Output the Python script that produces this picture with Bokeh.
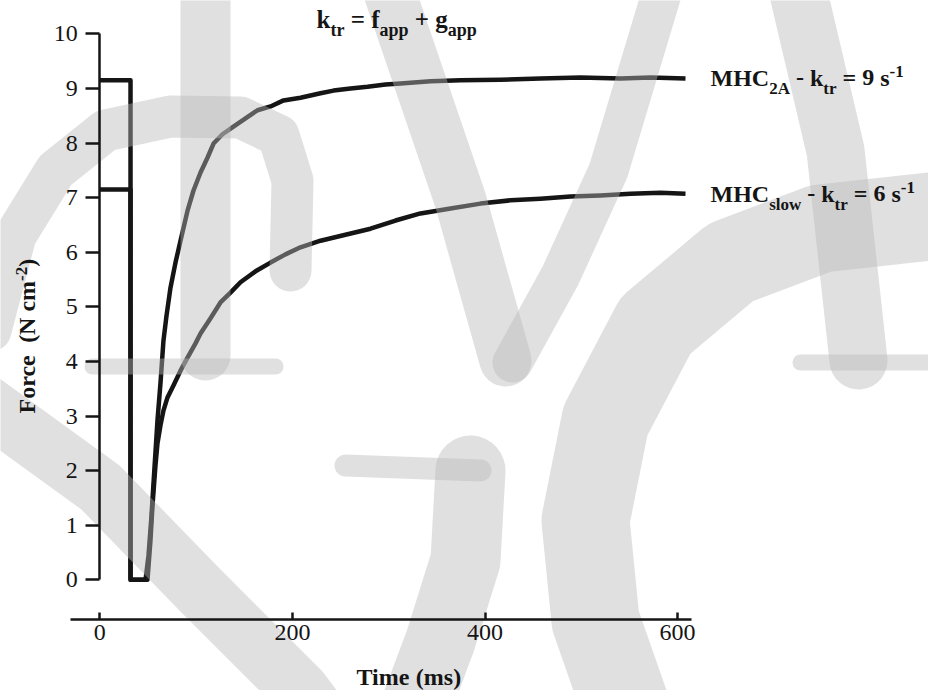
import re
import math
from bokeh.plotting import figure
from bokeh.models import Range1d, FixedTicker, Label, LinearAxis, ColumnDataSource
from bokeh.embed import file_html
from bokeh.resources import INLINE

# ---------------- data ----------------
x_ticks = [0, 200, 400, 600]
y_ticks = [0, 1, 2, 3, 4, 5, 6, 7, 8, 9, 10]

# MHC 2A fibre (fast)
fast_t = [0.0, 31.9, 31.9, 47.5, 50.6, 53.7, 56.8, 59.9, 63.0, 66.1, 69.3, 73.4, 78.6, 83.8,
          91.1, 97.3, 104.6, 111.8, 118.1, 127.4, 138.8, 151.3, 163.8, 177.3, 190.8, 208.4,
          229.2, 242.7, 260.3, 278.0, 296.7, 312.3, 343.4, 374.6, 416.1, 457.6, 499.2, 540.7,
          571.9, 608.2]
fast_f = [9.15, 9.15, 0.0, 0.0, 0.45, 1.18, 2.06, 2.92, 3.60, 4.38, 4.84, 5.35, 5.81, 6.21,
          6.76, 7.13, 7.46, 7.73, 7.99, 8.16, 8.30, 8.45, 8.60, 8.67, 8.78, 8.83,
          8.91, 8.96, 9.00, 9.03, 9.07, 9.09, 9.13, 9.15, 9.16, 9.18, 9.20, 9.18,
          9.20, 9.18]

# MHC slow fibre
slow_t = [0.0, 31.9, 31.9, 49.5, 52.6, 54.7, 57.8, 59.9, 63.0, 66.1, 70.3, 76.5, 83.8, 91.1,
          99.4, 104.6, 115.0, 125.3, 135.7, 146.1, 161.7, 177.3, 192.8, 208.4, 229.2, 255.1,
          281.1, 307.1, 333.0, 364.2, 395.3, 426.5, 457.6, 488.8, 519.9, 551.1, 582.2, 608.2]
slow_f = [7.15, 7.15, 0.0, 0.0, 0.72, 1.36, 2.09, 2.50, 2.83, 3.10, 3.34, 3.56, 3.83, 4.07,
          4.33, 4.51, 4.79, 5.08, 5.26, 5.45, 5.65, 5.81, 5.96, 6.09, 6.21, 6.32,
          6.43, 6.58, 6.71, 6.80, 6.89, 6.95, 6.98, 7.02, 7.04, 7.07, 7.09, 7.07]

# ---------------- layout ----------------
W, H = 928, 690
X0_PX, PX_PER_MS = 99.3, 0.963      # image x of t=0, scale
Y0_PX, PX_PER_N = 579.3, 54.6       # image y of F=0, scale


def tx(px):
    return (px - X0_PX) / PX_PER_MS


def fy(py):
    return (Y0_PX - py) / PX_PER_N


p = figure(width=W, height=H, output_backend="svg", toolbar_location=None,
           x_range=Range1d(tx(0), tx(W)), y_range=Range1d(fy(H), fy(0)),
           x_axis_type=None, y_axis_type=None, min_border=0)
p.outline_line_color = None
p.background_fill_color = "white"
p.border_fill_color = "white"

INK = "#151515"
FONT = "Liberation Serif"

# traces
p.line(fast_t, fast_f, line_color=INK, line_width=4.5, line_join="round")
p.line(slow_t, slow_f, line_color=INK, line_width=4.5, line_join="round")

# watermark (decorative, drawn over the traces, image-pixel strokes)
wm_strokes = [
    ([(205, -20), (205, 355)], 50),
    ([(92, 366), (275, 366)], 16),
    ([(-10, 330), (15, 235), (55, 170), (105, 130), (170, 116), (240, 117), (278, 135), (292, 180), (290, 270)], 42),
    ([(-20, 400), (100, 487), (200, 590), (300, 690), (330, 730)], 58),
    ([(385, -20), (460, 200), (505, 360)], 52),
    ([(665, -20), (608, 170), (560, 275), (512, 362)], 40),
    ([(795, -20), (835, 150), (858, 360)], 58),
    ([(800, 362), (935, 362)], 16),
    ([(940, 215), (820, 228), (730, 262), (655, 325), (605, 420), (585, 520), (595, 620), (630, 720)], 88),
    ([(345, 465), (480, 470)], 22),
    ([(470, 470), (465, 560), (440, 640), (410, 720)], 70),
]
wm_src = ColumnDataSource(dict(
    xs=[[tx(a) for a, b in pts] for pts, w in wm_strokes],
    ys=[[fy(b) for a, b in pts] for pts, w in wm_strokes],
    lw=[w for pts, w in wm_strokes],
))
p.multi_line("xs", "ys", source=wm_src, line_width="lw", line_color="#b8b8b8",
             line_alpha=0.44, line_cap="round", line_join="round")

# axes
xaxis = LinearAxis(fixed_location=fy(619), bounds=(tx(70), tx(690.7)),
                   ticker=FixedTicker(ticks=x_ticks, minor_ticks=[]))
yaxis = LinearAxis(fixed_location=0, bounds=(0, 10),
                   ticker=FixedTicker(ticks=y_ticks, minor_ticks=[]))
for ax in (xaxis, yaxis):
    ax.axis_line_color = INK
    ax.axis_line_width = 2.5
    ax.major_tick_line_color = INK
    ax.major_tick_line_width = 2.5
    ax.minor_tick_line_color = None
    ax.major_label_text_font = FONT
    ax.major_label_text_font_size = "24px"
    ax.major_label_text_color = INK
xaxis.major_tick_in = 7
xaxis.major_tick_out = 0
xaxis.major_label_standoff = 5
yaxis.major_tick_in = 0
yaxis.major_tick_out = 14
yaxis.major_label_standoff = 8
p.add_layout(xaxis, "below")
p.add_layout(yaxis, "left")

# rich text helper (Times bold advance widths, per 1000 em)
WB = {" ": 250, "-": 333, "=": 570, "+": 570, "(": 333, ")": 333, "A": 722, "C": 722,
      "F": 611, "H": 778, "M": 944, "N": 722, "T": 667, "a": 500, "c": 444, "e": 444,
      "f": 333, "g": 500, "i": 278, "k": 556, "l": 278, "m": 833, "o": 500, "p": 556,
      "r": 444, "s": 389, "t": 333, "w": 722}
MID = 0.338   # distance from text middle to alphabetic baseline, in em


def width(s, fs):
    return sum(WB.get(c, 500) for c in s) / 1000.0 * fs


def rich(segments, px, py, size=24, angle=0.0):
    """px, py: image position of the start of the baseline."""
    pos = 0.0
    for txt, kind in segments:
        fs = size if kind == "n" else round(size * 0.7)
        shift = {"n": 0.0, "sub": 8.5, "sup": -8.5}[kind]
        for run in re.split(r"( +)", txt):
            if not run:
                continue
            if run.strip():
                if angle == 0.0:
                    x, y = px + pos, py + shift - MID * fs
                else:
                    x, y = px + shift - MID * fs, py - pos
                p.add_layout(Label(x=tx(x), y=fy(y), text=run, text_font=FONT,
                                   text_font_style="bold", text_font_size=f"{fs}px",
                                   text_color=INK, angle=angle, text_baseline="middle",
                                   text_align="left"))
            pos += width(run, fs)


rich([("k", "n"), ("tr", "sub"), (" = f", "n"), ("app", "sub"), (" + g", "n"), ("app", "sub")], 316, 27, size=25)
rich([("MHC", "n"), ("2A", "sub"), (" - k", "n"), ("tr", "sub"), (" = 9 s", "n"), ("-1", "sup")], 710, 85.5)
rich([("MHC", "n"), ("slow", "sub"), (" - k", "n"), ("tr", "sub"), (" = 6 s", "n"), ("-1", "sup")], 710, 201.5)
rich([("Time (ms)", "n")], 356, 685)
rich([("Force  (N cm", "n"), ("-2", "sup"), (")", "n")], 35, 413, angle=math.pi / 2)

open("out.html", "w").write(file_html(p, INLINE))
